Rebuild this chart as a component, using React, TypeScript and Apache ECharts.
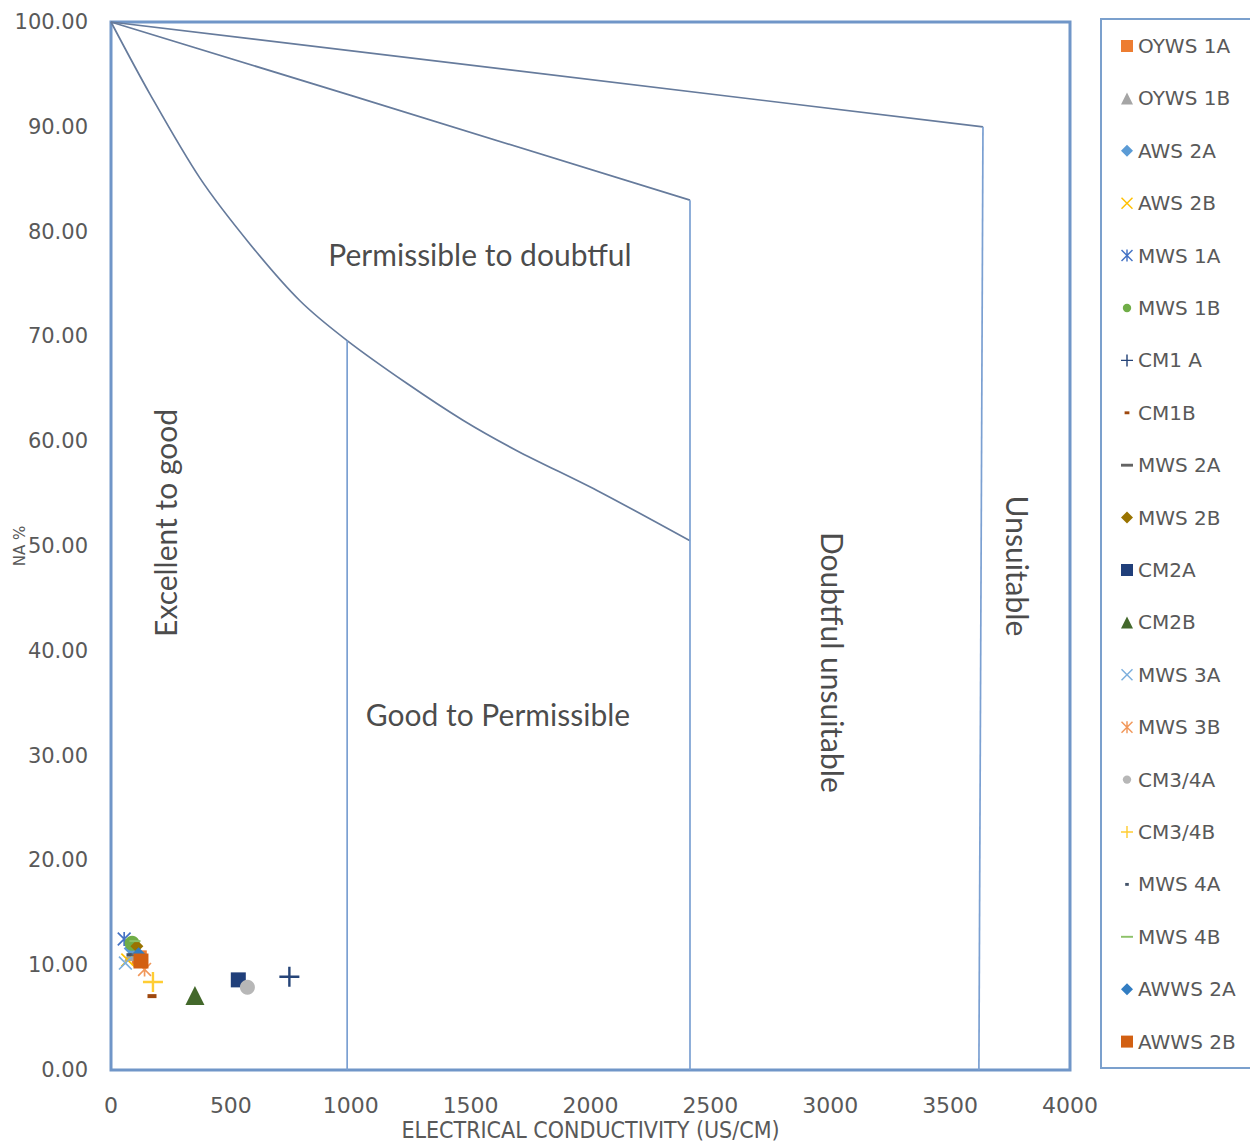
import React, { useEffect, useRef } from "react";
import * as echarts from "echarts";

// ---------- sample series ----------
const seriesNames = [
  "OYWS 1A", "OYWS 1B", "AWS 2A", "AWS 2B", "MWS 1A", "MWS 1B", "CM1 A", "CM1B",
  "MWS 2A", "MWS 2B", "CM2A", "CM2B", "MWS 3A", "MWS 3B", "CM3/4A", "CM3/4B",
  "MWS 4A", "MWS 4B", "AWWS 2A", "AWWS 2B",
];
const seriesEC = [118, 95, 80, 70, 55, 88, 744, 171, 100, 108, 531, 350, 60, 140, 569, 175, 75, 100, 115, 125];
const seriesNa = [10.7, 11.3, 11.6, 10.5, 12.5, 12.1, 8.9, 7.05, 11.0, 11.8, 8.6, 7.1, 10.2, 9.6, 7.9, 8.4, 11.0, 12.3, 11.1, 10.4];
const seriesColors = [
  "#ED7D31", "#A5A5A5", "#5B9BD5", "#FFC000", "#4472C4", "#70AD47", "#264478", "#9E480E",
  "#636363", "#997300", "#203F7A", "#43682B", "#7CAFDD", "#F1975A", "#B7B7B7", "#FFCD33",
  "#44546A", "#8CC168", "#327DC2", "#D26012",
];
const seriesShapes = [
  "square", "triangle", "diamond", "x", "star", "circle", "plus", "dashS",
  "dash", "diamond", "square", "triangle", "x", "star", "circle", "plus",
  "dashXS", "dashThin", "diamond", "square",
];

// ---------- Wilcox boundary lines ----------
const topLineEC = [0, 3637];
const topLineNa = [100, 90];
const midLineEC = [0, 1000, 2415];
const midLineNa = [100, 93, 83];
const lowCurveEC = [0, 163, 371, 580, 788, 985, 1235, 1468, 1693, 2027, 2415];
const lowCurveNa = [100, 93.1, 85.1, 78.8, 73.4, 69.6, 65.5, 62.0, 59.1, 55.3, 50.5];
const vert1EC = [985, 985];
const vert1Na = [69.6, 0];
const vert2EC = [2415, 2415];
const vert2Na = [83, 0];
const vert3EC = [3637, 3620];
const vert3Na = [90, 0];

// ---------- zone labels ----------
const zoneNames = ["Permissible to doubtful", "Good to Permissible", "Excellent to good", "Doubtful unsuitable", "Unsuitable"];
const zoneEC = [1539, 1614, 225, 3011, 3783];
const zoneNa = [77.9, 34.0, 52.2, 38.9, 48.1];
const zoneRotate = [0, 0, 90, -90, -90];

// ---------- axes ----------
const xMin = 0, xMax = 4000, xStep = 500;
const yMin = 0, yMax = 100, yStep = 10;

const FONT = "'DejaVu Sans', sans-serif";
const ZONE_FONT = "Lato, 'Open Sans', sans-serif";

const XP = "M0,0.85L0.85,0L5,4.15L9.15,0L10,0.85L5.85,5L10,9.15L9.15,10L5,5.85L0.85,10L0,9.15L4.15,5Z";
const PLUS = "M4.4,0H5.6V4.4H10V5.6H5.6V10H4.4V5.6H0V4.4H4.4Z";
const STAR = XP + "M4.4,0H5.6V10H4.4Z";

const plotSymbol: Record<string, any> = {
  square: "rect", triangle: "triangle", diamond: "diamond", circle: "circle",
  x: "path://" + XP, star: "path://" + STAR, plus: "path://" + PLUS,
  dashS: "rect", dash: "rect", dashXS: "rect", dashThin: "rect",
};
const plotSize: Record<string, any> = {
  square: 15, triangle: 19, diamond: 13, circle: 15, x: 14, star: 14, plus: 20,
  dashS: [9, 4], dash: [11, 3], dashXS: [5, 3], dashThin: [11, 2],
};
const legendIcon: Record<string, string> = {
  square: "path://M0.5,0.5H9.5V9.5H0.5Z", triangle: "triangle", diamond: "diamond", circle: "path://M0,0M10,10M1.5,5A3.5,3.5,0,1,1,8.5,5A3.5,3.5,0,1,1,1.5,5Z",
  x: "path://" + XP, star: "path://" + STAR, plus: "path://" + PLUS,
  dashS: "path://M0,0M10,10M3,3.8H7V6.2H3Z",
  dash: "path://M0,0M10,10M0,3.8H10V6.2H0Z",
  dashXS: "path://M0,0M10,10M3.5,3.8H6.5V6.2H3.5Z",
  dashThin: "path://M0,0M10,10M0,4.2H10V5.8H0Z",
};

const zip = (xs: number[], ys: number[]) => xs.map((x, i) => [x, ys[i]]);

export default function App() {
  const ref = useRef<HTMLDivElement>(null);
  useEffect(() => {
    if (!ref.current) return;
    const chart = echarts.init(ref.current, undefined, { renderer: "svg" });

    const lineBase = (data: number[][], color: string, smooth: number | boolean = false) => ({
      type: "line",
      data,
      symbol: "none",
      smooth,
      lineStyle: { color, width: 1.7 },
      silent: true,
      z: 1,
    });
    const diagColor = "#667B9C";
    const vertColor = "#7BA0D2";

    const scatterSeries = seriesNames.map((name, i) => {
      const shape = seriesShapes[i];
      return {
        name,
        type: "scatter",
        data: [[seriesEC[i], seriesNa[i]]],
        symbol: plotSymbol[shape],
        symbolSize: plotSize[shape],
        itemStyle: { color: seriesColors[i], opacity: 1 },
        z: 3,
      };
    });

    const zoneSeries = {
      type: "scatter",
      name: "zones",
      symbolSize: 0,
      silent: true,
      data: zoneNames.map((n, i) => ({
        name: n,
        value: [zoneEC[i], zoneNa[i]],
        label: { rotate: zoneRotate[i] },
      })),
      label: {
        show: true,
        position: "inside",
        formatter: (p: any) => p.name,
        color: "#1a1a1a",
        fontSize: 30,
        fontFamily: ZONE_FONT,
        align: "center",
        verticalAlign: "middle",
      },
      z: 2,
    };

    chart.setOption({
      animation: false,
      backgroundColor: "#ffffff",
      grid: {
        left: 111, top: 22, right: 180, bottom: 72,
        outerBoundsMode: "none",
        containLabel: false,
        show: true, borderColor: "#7096C8", borderWidth: 3, backgroundColor: "transparent",
      },
      xAxis: {
        type: "value", min: xMin, max: xMax, interval: xStep,
        axisLine: { show: false }, axisTick: { show: false }, splitLine: { show: false },
        axisLabel: { color: "#595959", fontSize: 22, fontFamily: FONT, margin: 24, formatter: (v: number) => String(v) },
        name: "ELECTRICAL CONDUCTIVITY (US/CM)",
        nameLocation: "middle", nameGap: 48,
        nameMoveOverlap: false,
        nameTextStyle: { color: "#595959", fontSize: 23, fontFamily: "'Liberation Sans Narrow', 'DejaVu Sans Condensed', Roboto, sans-serif" },
      },
      yAxis: {
        type: "value", min: yMin, max: yMax, interval: yStep,
        axisLine: { show: false }, axisTick: { show: false }, splitLine: { show: false },
        axisLabel: { color: "#595959", fontSize: 21, fontFamily: FONT, margin: 23, formatter: (v: number) => v.toFixed(2) },
        name: "NA %",
        nameLocation: "middle", nameGap: 84,
        nameMoveOverlap: false,
        nameTextStyle: { color: "#595959", fontSize: 15, fontFamily: FONT },
      },
      legend: {
        orient: "vertical",
        left: 1116, top: 30,
        itemWidth: 12, itemHeight: 12,
        itemGap: 30.4,
        symbolKeepAspect: true,
        data: seriesNames.map((n, i) => ({ name: n, icon: legendIcon[seriesShapes[i]] })),
        textStyle: { color: "#595959", fontSize: 20, fontFamily: FONT, lineHeight: 22 },
        selectedMode: false,
      },
      graphic: [
        {
          type: "rect",
          shape: { x: 1101, y: 19, width: 160, height: 1049 },
          style: { fill: "none", stroke: "#7BA0CD", lineWidth: 2 },
          silent: true,
        },
      ],
      series: [
        lineBase(zip(topLineEC, topLineNa), diagColor),
        lineBase(zip(midLineEC, midLineNa), diagColor),
        lineBase(zip(lowCurveEC, lowCurveNa), diagColor, 0.3),
        lineBase(zip(vert1EC, vert1Na), vertColor),
        lineBase(zip(vert2EC, vert2Na), vertColor),
        lineBase(zip(vert3EC, vert3Na), vertColor),
        zoneSeries,
        ...scatterSeries,
      ],
    });

    return () => chart.dispose();
  }, []);

  return (
    <div
      ref={ref}
      style={{ position: "absolute", left: 0, top: 0, width: 1250, height: 1142, background: "#fff" }}
    />
  );
}
